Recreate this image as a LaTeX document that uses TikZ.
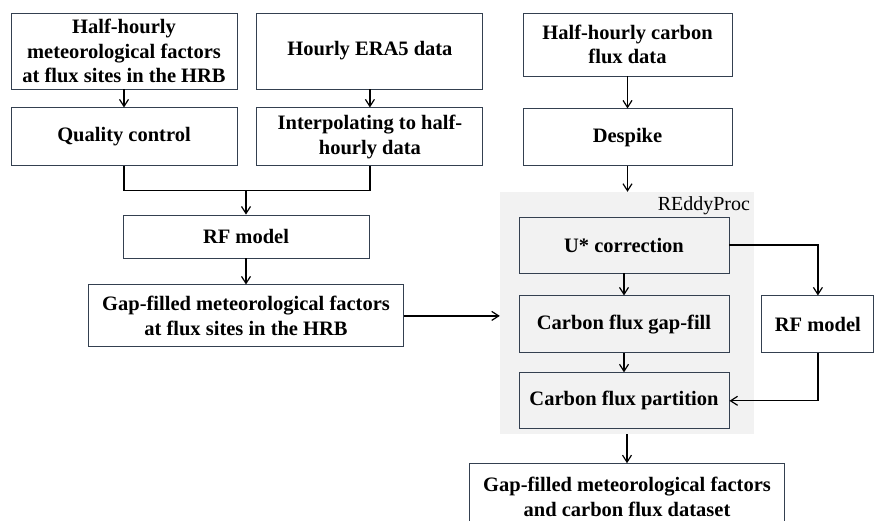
\documentclass[tikz,border=0pt]{standalone}
\usepackage{fontspec}
\setmainfont{Liberation Serif}
\usetikzlibrary{arrows.meta, positioning}
\definecolor{boxline}{RGB}{52,64,80}
\definecolor{procgray}{RGB}{242,242,242}

\begin{document}
\begin{tikzpicture}[x=1pt, y=1pt,
    box/.style={draw=boxline, line width=0.9pt, fill=white, align=center, inner sep=0pt,
      font=\fontsize{20.5}{24.5}\selectfont\bfseries},
    inbox/.style={box, fill=procgray, minimum width=210, minimum height=56},
    arr/.style={-{Straight Barb[length=7pt, width=9pt]}, line width=1.2pt},
    line/.style={line width=1.2pt}]
    \useasboundingbox (0,0) rectangle (874,-520);

    % Meteorological branch
    \node (halfmet) [box, minimum width=226, minimum height=76] at (124,-51)
      {Half-hourly\\meteorological factors\\at flux sites in the HRB};
    \node (era) [box, minimum width=226, minimum height=76, right=19pt of halfmet]
      {Hourly ERA5 data};
    \node (qc) [box, minimum width=226, minimum height=58, below=18pt of halfmet]
      {Quality control};
    \node (interp) [box, minimum width=226, minimum height=58, below=18pt of era]
      {Interpolating to half-\\hourly data};
    \coordinate (junc) at (246,-190.5);
    \node (rfmet) [box, minimum width=246, minimum height=43] at (246,-236.5)
      {RF model};
    \node (gfmet) [box, minimum width=315, minimum height=62, below=26pt of rfmet]
      {Gap-filled meteorological factors\\at flux sites in the HRB};

    % Carbon flux branch
    \node (carbon) [box, minimum width=209, minimum height=63] at (627.5,-44.5)
      {Half-hourly carbon\\flux data};
    \node (despike) [box, minimum width=209, minimum height=57, below=32pt of carbon]
      {Despike};

    % REddyProc
    \node (proc) [fill=procgray, minimum width=254, minimum height=242, inner sep=0pt]
      at (627,-313) {};
    \node (proclabel) [anchor=north east, inner sep=0pt, font=\fontsize{20}{22}\selectfont]
      at ([xshift=-4pt, yshift=-5pt]proc.north east) {REddyProc};
    \node (ustar) [inbox] at (624,-245) {U* correction};
    \node (gapfill) [inbox, minimum height=57, below=22pt of ustar] {Carbon flux gap-fill};
    \node (partition) [inbox, below=19pt of gapfill] {Carbon flux partition};
    \node (rfcarbon) [box, minimum width=112, minimum height=57, right=32pt of gapfill]
      {RF model};

    \node (final) [box, minimum width=315, minimum height=66, below=29pt of proc]
      {Gap-filled meteorological factors\\and carbon flux dataset};

    % Arrows
    \draw[arr] (halfmet) -- (qc);
    \draw[arr] (era) -- (interp);
    \draw[line] (qc.south) |- (junc) -| (interp.south);
    \draw[arr] (junc) -- (rfmet);
    \draw[arr] (rfmet) -- (gfmet);
    \draw[arr] (gfmet.east) -- (proc.west |- gfmet.east);
    \draw[arr] (carbon) -- (despike);
    \draw[arr] (despike.south) -- (despike.south |- proc.north);
    \draw[arr] (ustar) -- (gapfill);
    \draw[arr] (gapfill) -- (partition);
    \draw[arr] (ustar.east) -| (rfcarbon.north);
    \draw[arr] (rfcarbon.south) |- (partition.east);
    \draw[arr] (proc.south -| final.north) -- (final);
\end{tikzpicture}
\end{document}
